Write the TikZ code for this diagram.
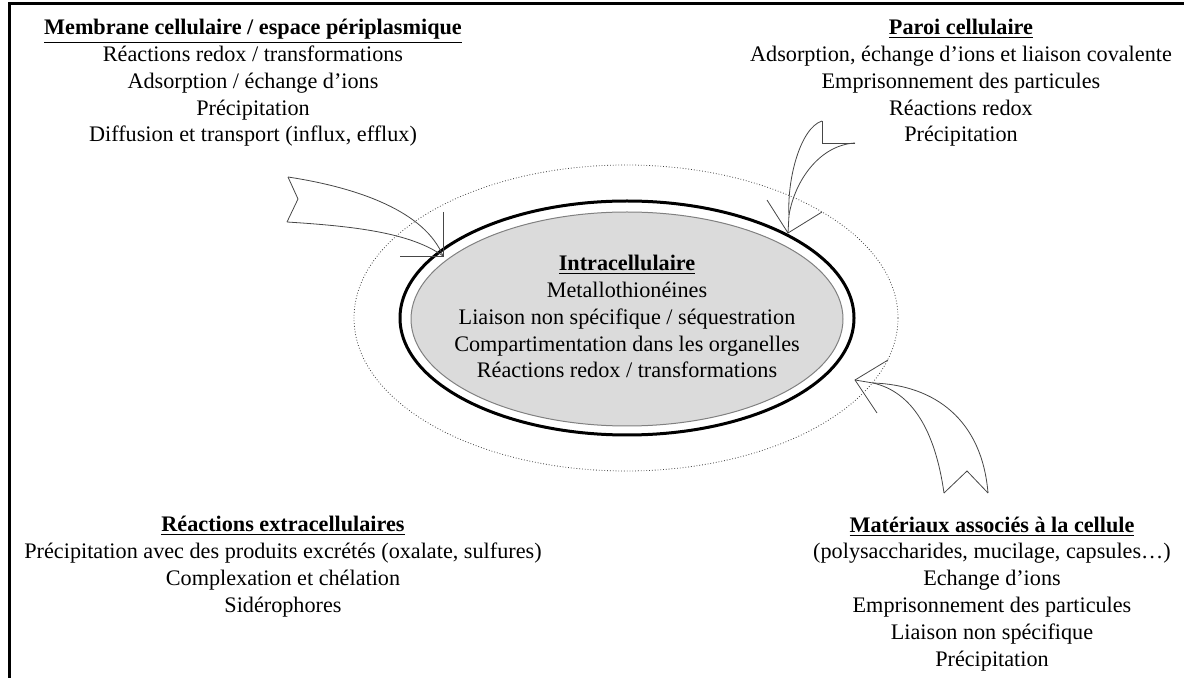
\documentclass[tikz,border=0pt]{standalone}
\usepackage{fontspec}
\setmainfont{Liberation Serif}
\usetikzlibrary{shapes.geometric}
\begin{document}
\begin{tikzpicture}[x=0.5pt,y=-0.5pt,
  txt/.style={align=center,anchor=base,inner sep=0pt,font=\fontsize{11.1}{13.4}\selectfont},
  arr/.style={draw=gray!55!black,line width=0.4pt},
  frameline/.style={line width=1.5pt}]
\useasboundingbox (0,0) rectangle (1184,678);
% frame
\coordinate (f1) at (9,678);
\coordinate (f2) at (9,4);
\coordinate (f3) at (1184,4);
\draw[frameline] (f1) -- (f2) -- (f3);
% ellipses
\node[ellipse,draw=gray!50!black,densely dotted,line width=0.4pt,minimum width=272pt,minimum height=153pt,inner sep=0pt] (outer) at (626,318) {};
\node[ellipse,draw=black,line width=1.5pt,minimum width=227pt,minimum height=117pt,inner sep=0pt] (wall) at (627,318) {};
\node[ellipse,draw=gray,fill=gray!28,line width=0.5pt,minimum width=216pt,minimum height=107pt,inner sep=0pt] (inner) at (627,319) {};
\node[txt] (intra) at (627,378) {\underline{\textbf{Intracellulaire}}\\Metallothionéines\\Liaison non spécifique / séquestration\\Compartimentation dans les organelles\\Réactions redox / transformations};
% text blocks
\node[txt] (memb) at (253,142) {\underline{\textbf{Membrane cellulaire / espace périplasmique}}\\Réactions redox / transformations\\Adsorption / échange d’ions\\Précipitation\\Diffusion et transport (influx, efflux)};
\node[txt] (paroi) at (961,142) {\underline{\textbf{Paroi cellulaire}}\\Adsorption, échange d’ions et liaison covalente\\Emprisonnement des particules\\Réactions redox\\Précipitation};
\node[txt] (extra) at (283,612) {\underline{\textbf{Réactions extracellulaires}}\\Précipitation avec des produits excrétés (oxalate, sulfures)\\Complexation et chélation\\Sidérophores};
\node[txt] (mat) at (992,666) {\underline{\textbf{Matériaux associés à la cellule}}\\(polysaccharides, mucilage, capsules…)\\Echange d’ions\\Emprisonnement des particules\\Liaison non spécifique\\Précipitation};
% arrow 1 (top left)
\coordinate (a1t) at (288,177);
\coordinate (a1n) at (298,199);
\coordinate (a1b) at (287,222);
\coordinate (a1tip) at (443,256);
\coordinate (a1h1) at (443,212);
\coordinate (a1h2) at (400,256);
\draw[arr] (a1t) -- (a1n) -- (a1b);
\draw[arr] (a1t) .. controls (360,188) and (425,212) .. (a1tip);
\draw[arr] (a1b) .. controls (350,226) and (410,232) .. (a1tip);
\draw[arr] (a1h1) -- (a1tip) -- (a1h2);
% arrow 2 (top right)
\coordinate (a2t) at (822,121);
\coordinate (a2n) at (822,143);
\coordinate (a2b) at (855,143);
\coordinate (a2j) at (789,215);
\coordinate (a2tip) at (788,233);
\coordinate (a2h1) at (767,200);
\coordinate (a2h2) at (822,212);
\draw[arr] (a2t) -- (a2n) -- (a2b);
\draw[arr] (a2t) .. controls (800,128) and (787,180) .. (a2j);
\draw[arr] (a2b) .. controls (820,145) and (795,180) .. (a2j);
\draw[arr] (a2j) -- (a2tip);
\draw[arr] (a2h1) -- (a2tip) -- (a2h2);
% arrow 3 (bottom right)
\coordinate (a3l) at (944,493);
\coordinate (a3n) at (967,471);
\coordinate (a3r) at (988,493);
\coordinate (a3j) at (873,383);
\coordinate (a3tip) at (855,380);
\coordinate (a3h1) at (888,360);
\coordinate (a3h2) at (877,413);
\draw[arr] (a3l) -- (a3n) -- (a3r);
\draw[arr] (a3r) .. controls (982,420) and (935,385) .. (a3j);
\draw[arr] (a3l) .. controls (935,430) and (912,392) .. (a3j);
\draw[arr] (a3j) -- (a3tip);
\draw[arr] (a3h1) -- (a3tip) -- (a3h2);
\end{tikzpicture}
\end{document}
